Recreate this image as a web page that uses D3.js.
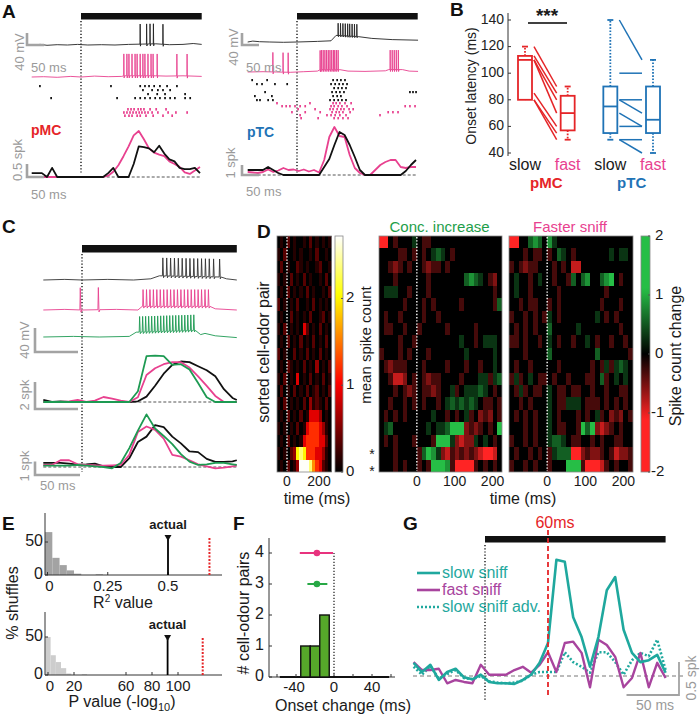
<!DOCTYPE html>
<html><head><meta charset="utf-8">
<script src="https://cdn.jsdelivr.net/npm/d3@7"></script>
<style>body{margin:0;background:#fff}</style>
</head><body>
<svg id="chart" width="700" height="715"></svg>
<script>
// ================= DATA =================
// Panel A – PSTH (spikes per bin), time in ms from odour onset
const aTime = [-145,-130,-115,-100,-85,-70,-55,-40,-25,-10,5,20,35,50,65,80,95,110,125,140,155,170,185,200,215,230,245,260,275,290,305,320,335,350];
const aPmcSlow = [0.15,0.15,0.15,0,0.35,0,0,0,0,0,0,0,0,0,0,0.15,0.35,0,0,0,0.5,1.18,1.15,1.1,0.95,1.2,0.9,0.68,0.6,0.35,0.3,0.3,0.35,0.15];
const aPmcFast = [0,0,0,0,0,0,0,0,0,0,0,0,0,0,0,0.05,0.2,0.45,0.8,1.18,1.6,1.77,1.45,1.1,0.94,0.86,0.8,0.6,0.5,0.39,0.18,0.12,0.25,0.38];
const aPtcSlow = [0.5,0.5,0.5,0.5,0.8,0.5,0.2,0,0,0,0,0,0,0,0,0.8,1.6,3.0,4.3,4.0,3.0,1.8,0.5,0,0,0,0,0,0,0,0,0.4,1.0,1.5];
const aPtcFast = [0.3,0.25,0.2,0.3,0.55,0.3,0.45,0.7,0.5,0.55,0.4,0.55,0.35,0.5,0.25,1.5,3.8,4.8,3.9,3.8,2.0,0.7,0.2,0,0,0.5,1.0,1.3,1.5,1.5,0.8,0.7,0.8,0.8];
// Panel A – membrane potential: baseline [ms, mV] and spike times (ms)
const vPmcSlowBase = [[-145,0],[-120,2],[-100,-1],[-70,1],[-40,0],[-10,2],[20,0],[60,1],[100,0],[140,2],[180,3],[220,4],[260,1],[300,2],[330,5],[355,2]];
const vPmcSlowSpk = [174,193,203,213,241];
const vPmcFastBase = [[-145,0],[-110,1],[-70,-1],[-30,2],[0,0],[40,3],[80,1],[120,2],[126,4],[220,4],[250,3],[300,4],[355,2]];
const vPmcFastSpk = [126,135,141,150,159,165,174,182,188,197,206,212,224,282,312];
const vPtcSlowBase = [[-145,0],[-130,3],[-110,1],[-80,0],[-40,-1],[0,0],[60,2],[100,4],[115,22],[180,18],[220,12],[280,8],[356,6]];
const vPtcSlowSpk = [121,128,135,142,149,155,162,169,176];
const vPtcFastBase = [[-145,0],[-100,1],[-60,0],[-20,-1],[20,1],[60,3],[70,8],[125,8],[150,3],[200,2],[260,4],[270,8],[310,8],[330,3],[356,2]];
const vPtcFastSpk = [-71,-41,-26,68,72,77,82,87,92,97,102,107,111,116,121,274,280,286,292,298];
// Panel A – rasters (spike times per trial)
const rPmcSlow = [[-121,88,174,188,200,215,232,253,282],[182,209,226,241,262],[197,224,247,306],[-88,106,159,174,188,203,218,232,247,262,276,306,321]];
const rPmcFast = [[138,147,156,168,176,185,203,221,250],[126,135,144,153,162,171,179,188,197,209,226,256,279,312],[129,141,150,165,174,191,212,241,268]];
const rPtcSlow = [[-132,-88,106,118,129,141],[-118,-103,-65,-29,100,112,124,135,147],[109,121,132,144],[-94,103,115,126,138,332,341,350],[-124,-74,106,118,129],[-118,-109,-85,-71,97,109,121,132,144]];
const rPtcFast = [[-59,38,106,115,126,141,159],[-44,-32,-21,-6,9,24,100,109,121,132,147,318,332,347],[3,53,97,106,118,129,138,153,165],[-15,24,68,103,115,124,135,156,268,282,297],[9,88,100,112,126,144,244],[12,62,109,121,135,150]];

// Panel B – onset latency (ms)
const bGroups = ["pMC slow","pMC fast","pTC slow","pTC fast"];
const bMin = [80,50,50,40], bQ1 = [80,57,55,55], bMed = [110,70,75,65], bQ3 = [113,83,90,90], bMax = [120,90,140,110];
const bPmcSlowPts = [120,113,110,110,85,80,80], bPmcFastPts = [90,85,80,70,60,55,50];
const bPtcSlowPts = [140,100,80,80,70,60,50,50], bPtcFastPts = [110,100,80,70,60,60,50,40];
const bTicks = [40,60,80,100,120,140];

// Panel C – membrane potential
const cBlackBase = [[-45,0],[-20,1],[0,0],[30,1],[60,0],[80,2],[90,7],[160,5],[168,2],[180,0]];
const cBlackSpk = [94,98.5,103,107.5,112,116.5,121,125.5,130,134.5,139,143.5,148,153,160];
const cPinkBase = [[-45,0],[-20,1],[0,0],[40,1],[65,0],[70,6],[148,6],[155,2],[180,0]];
const cPinkSpk = [-2,19,71,75,79,83,87,91,95,99,103,107,111,115,119,123,127,131,135,139,143,147];
const cGreenBase = [[-45,0],[-10,1],[20,0],[55,1],[63,8],[130,11],[138,4],[143,6],[155,2],[180,-1]];
const cGreenSpk = [67,70.5,74,77.5,81,84.5,88,91.5,95,98.5,102,105.5,109,112.5,116,119.5,123,126.5,130];
// Panel C – PSTHs
const cTime = [-45,-35,-25,-15,-5,5,15,25,35,45,55,65,75,85,95,105,115,125,135,145,155,165,175,180];
const c1Black = [0.15,0,0.05,0,0,0,0,0,0,0,0,0.05,0.4,1.2,2.1,2.75,3.0,2.95,2.65,2.35,1.9,0.95,0.3,0.15];
const c1Pink = [0,0,0,0.05,0.15,0,0.1,0.37,0.25,0.1,0,0.35,2.0,2.5,2.8,2.95,2.95,2.55,1.9,1.2,0.45,0,0,0];
const c1Green = [0,0,0,0,0,0,0,0,0,0,0,0.8,3.4,3.43,3.4,2.75,2.8,2.4,1.4,0.35,0,0,0,0];
const c2Black = [0.3,0.3,0.3,0.25,0.18,0.2,0.25,0.05,0,0,0.65,1.85,2.25,3.1,2.95,2.25,1.75,1.15,1.1,0.6,0.38,0.38,0.42,0.5];
const c2Pink = [0.15,0.15,0.5,0.5,0.2,0.15,0.12,0.1,0.12,0.15,0.9,2.6,3.0,2.75,2.1,0.9,0.77,0.5,0.2,0.05,-0.1,-0.05,0.05,0.1];
const c2Green = [0.1,0.1,0.1,0.1,0.15,0.1,0.05,0,-0.1,0.3,1.4,2.7,3.9,2.85,2.3,1.7,0.95,0.4,0.15,0.2,0.3,0.3,0.2,0.15];

// Panel D – heatmaps (each character = one time bin)
// mean spike count: level index 0-9 into dMeanLevels
const dMeanLevels = [0,0.15,0.35,0.6,0.9,1.2,1.6,2.0,2.35,2.7];
const dMeanRows = [
"01020100102010101","10200101001020010","02010021010012001","10102010201001020",
"01020101020100102","20101020010201010","01002010102001201","10201010420102010",
"01020102010201020","20100201020102010","01021010201030102","10201040102010201",
"02010201020120102","10201010203121020","01020102014443010","10101020145554310",
"01020101455554420","10102378755544310","01020139998654210"];
// spike-count change: . 0 | r R S X negative | g G H W positive
const dConcRows = [
"XX.r...g.rr...............","....rr.r.r.gGg.r..........","..rRr.r..rRrr.r...........","...r......r.......GHGg.rR.",
".ggg..r...r.............r.",".....r...r.r.....r......rG",".r..r....r..r.............",".rr..r..r.....r.....r.....",
"....r..r.........g..r.ggg.","r...r.r...r.......g.....g.",".rRrrr...r....r...r..r..g.","..rSSR.r.rRrr....r...ggrgG",
"...r.rRr.rrRr..gr.gggGg.r.","..r..r.r.r..r.gGgGgGg.rr.r",".r.r.r.....g..r.r.gr.RrR.r",".gG.......g.ggGWWWRrRr.r.W",
".r.r...r...rWWWgRSRRg.g.r.","...r....rGWHgRSrRrRrRSXXS.","...r.r..r.rWWWHrXXXXr.r.r."];
const dSniffRows = [
"XX..GHG.Hg................","...r.rr.r.Gg.r.......g.gg.","r.rRrr...r.r.SS...........",".g..r.g..r..rG.GH..GHW.r..",
".g..r.....r.........r.....","..r.rr..r.r........r...r..","r..r.r.rg.r.......g.r.r...",".r.r.r..G.....g........r..",
"rr.r..r.g.r..r..g.r..r..r.","...r....G.........G......r",".r..r.....r......r.rgrgGg.","rgr.g.rr.r..r...rr.Gr.g.g.",
".rgr.rr.g.rr.rr..r..r..rr.","..r.r...g.rrggg.rrr.r.r.r.",".r.r.r..g.r...r.r.gr.RrR.r","...r.r..g.rr..rWGWRSRr.r..",
"r..r.r..gGGg.rr..r.r..rr..",".r..r.r.rgGGGXXRrRRr.rSRRr","r..r.r..r...WWWrXXXSr.r..r"];
const dChangeLevels = {".":0,"r":-0.3,"R":-0.55,"S":-0.85,"X":-1.6,"g":0.3,"G":0.55,"H":0.85,"W":1.6};
const dMeanTicks = [0,1,2], dChangeTicks = [-2,-1,0,1,2], dTimeTicksL = [0,200], dTimeTicks = [0,100,200];

// Panel E – shuffle histograms (% shuffles)
const eR2Edges = [-0.01,0.02,0.05,0.08,0.11,0.14,0.17,0.20,0.23];
const eR2Counts = [65,26,15,7,2,0,0,1];
const eR2Actual = 0.5, eR2Red = 0.672;
const eR2Ticks = [0,0.25,0.5];
const ePEdges = [-2,2,6,10,14,18,22,26,30];
const ePCounts = [50,26,17,9,2,0,0,1];
const ePActual = 92, ePRed = 119;
const ePTicks = [0,20,60,80,100];

// Panel F – onset change histogram
const fEdges = [-35,-25,-15,-5];
const fCounts = [1,1,2];
const fPink = {mean:-18, lo:-36, hi:-1, y:4};
const fGreen = {mean:-18, lo:-28, hi:-7, y:3};

// Panel G – population PSTH (spikes)
const gTime = [-68,-60,-52,-44,-36,-28,-20,-12,-4,4,12,20,28,36,44,52,60,68,76,84,92,100,108,116,124,132,140,148,156,164,172];
const gSlow = [0.20,0.06,0.17,-0.06,0.06,0.11,-0.02,-0.05,0.02,-0.09,-0.11,-0.11,-0.12,-0.06,0.02,0.20,0.50,1.76,1.73,0.89,0.59,0.14,0.59,1.30,1.50,0.70,0.35,0.21,0.24,0.32,0.05];
const gFast = [0.21,0.09,0.09,0.11,-0.11,-0.06,-0.09,-0.11,0.17,0.02,0.02,0.02,0.09,0.14,0.05,0.17,0.36,0.06,0.50,0.52,0.35,-0.17,0.55,0.47,0.29,-0.17,-0.03,0.35,-0.17,0.20,-0.03];
const gSlowAdv = [0.14,0.02,0.15,-0.04,0.03,0.09,-0.03,-0.05,0.00,-0.08,-0.10,-0.11,-0.10,-0.07,0.02,0.06,0.06,0.06,0.36,0.21,0.14,0.05,0.36,0.36,0.21,0.02,0.24,0.35,0.30,0.55,0.09];

// ================= STYLE =================
const FONT = "'Liberation Sans', Arial, Helvetica, sans-serif";
const PINK = "#e8418f", RED = "#e52528", BLUE = "#1f73b6", CGREEN = "#1d9a52", GRAY = "#a3a3a3";
const TEAL = "#1fa89e", PURPLE = "#a8449e";

const svg = d3.select("#chart").attr("font-family", FONT);

function text(x, y, s, o = {}) {
  const t = svg.append("text").attr("x", x).attr("y", y).text(s)
    .attr("font-size", o.size || 14).attr("fill", o.fill || "#1a1a1a")
    .attr("text-anchor", o.anchor || "start");
  if (o.bold) t.attr("font-weight", "bold");
  if (o.rot) t.attr("transform", `rotate(-90 ${x} ${y})`);
  if (o.base) t.attr("dominant-baseline", o.base);
  return t;
}
function line(x1, y1, x2, y2, o = {}) {
  const l = svg.append("line").attr("x1", x1).attr("y1", y1).attr("x2", x2).attr("y2", y2)
    .attr("stroke", o.stroke || "#000").attr("stroke-width", o.w || 1);
  if (o.dash) l.attr("stroke-dasharray", o.dash);
  return l;
}
function scaleL(x, yTop, yBot, xRight, w) {
  svg.append("path").attr("d", `M${x},${yTop}V${yBot}H${xRight}`).attr("fill", "none")
    .attr("stroke", GRAY).attr("stroke-width", w || 2.6);
}
function series(ts, vs, xs, ys, color, w, dash) {
  const p = svg.append("path").attr("d", d3.line().x((d, i) => xs(ts[i])).y(d => ys(d))(vs))
    .attr("fill", "none").attr("stroke", color).attr("stroke-width", w).attr("stroke-linejoin", "round");
  if (dash) p.attr("stroke-dasharray", dash);
}
function vTrace(base, spikes, amp, xs, y0, k, color) {
  const interp = t => {
    for (let i = 0; i < base.length - 1; i++) {
      const [t0, v0] = base[i], [t1, v1] = base[i + 1];
      if (t >= t0 && t <= t1) return v0 + (v1 - v0) * (t - t0) / (t1 - t0);
    }
    return base[base.length - 1][1];
  };
  const pts = base.filter(b => !spikes.some(s => b[0] > s - 0.6 && b[0] < s + 2)).slice();
  spikes.forEach((s, i) => {
    const b = interp(s), a = typeof amp === "function" ? amp(s) : amp;
    pts.push([s - 0.5, b], [s, b + a], [s + 0.8, b - a * 0.1], [s + 1.8, b]);
  });
  pts.sort((p, q) => p[0] - q[0]);
  svg.append("path").attr("d", d3.line().x(d => xs(d[0])).y(d => y0 - d[1] * k)(pts))
    .attr("fill", "none").attr("stroke", color).attr("stroke-width", 0.9);
}
function raster(trials, xs, yTop, dy, color, h) {
  const pts = trials.flatMap((tr, i) => tr.map(t => ({t, i})));
  svg.append("g").selectAll("rect").data(pts).join("rect")
    .attr("x", d => xs(d.t) - 0.8).attr("y", d => yTop + d.i * dy)
    .attr("width", 1.7).attr("height", h).attr("fill", color);
}
function panelLabel(x, y, s) { text(x, y, s, {size: 19, bold: true, fill: "#111"}); }

// ================= PANEL A =================
panelLabel(2, 18, "A");
[{x0: 81, psthY0: 177, psthK: 26, slow: aPmcSlow, fast: aPmcFast, vs: [vPmcSlowBase, vPmcSlowSpk, 67, vPmcFastBase, vPmcFastSpk, 73],
  rs: rPmcSlow, rf: rPmcFast, name: "pMC", col: RED, sx: 27, nx: 31, ny: 135, spkLabel: "0.5 spk", spkLen: 13, vb: [45, 77]},
 {x0: 297, psthY0: 175, psthK: 10, slow: aPtcSlow, fast: aPtcFast, vs: [vPtcSlowBase, vPtcSlowSpk, 41, vPtcFastBase, vPtcFastSpk, 65],
  rs: rPtcSlow, rf: rPtcFast, name: "pTC", col: BLUE, sx: 242, nx: 247, ny: 137, spkLabel: "1 spk", spkLen: 10, vb: [42, 72]}
].forEach((P, pi) => {
  const xs = d3.scaleLinear().domain([0, 100]).range([P.x0, P.x0 + 34]);
  svg.append("rect").attr("x", xs(0)).attr("y", 13).attr("width", xs(355) - xs(0)).attr("height", 6.5).attr("fill", "#111");
  line(xs(0), 21, xs(0), 174, {dash: "1.2,2", w: 1.3});
  vTrace(P.vs[0], P.vs[1], P.vs[2], xs, P.vb[0], 0.3, "#222");
  vTrace(P.vs[3], P.vs[4], P.vs[5], xs, P.vb[1], 0.3, PINK);
  if (pi === 0) { raster(P.rs, xs, 85, 4, "#111", 2.2); raster(P.rf, xs, 108, 3.2, PINK, 2.6); }
  else { raster(P.rs, xs, 79, 4, "#111", 2.2); raster(P.rf, xs, 102, 3, PINK, 2.4); }
  scaleL(P.sx, 33, 45, P.sx + 17);
  text(pi === 0 ? 21 : 235, pi === 0 ? 52 : 47, "40 mV", {size: 13, fill: "#9a9a9a", anchor: "middle", rot: true, base: "middle"});
  text(P.sx + 4, 72, "50 ms", {size: 13, fill: "#9a9a9a"});
  text(P.nx, P.ny, P.name, {size: 14, bold: true, fill: P.col});
  const ys = d3.scaleLinear().domain([0, 1]).range([P.psthY0, P.psthY0 - P.psthK]);
  line(xs(-145), ys(0), xs(355), ys(0), {stroke: "#555", dash: "3,2", w: 1});
  series(aTime, P.fast, xs, ys, PINK, 1.8);
  series(aTime, P.slow, xs, ys, "#111", 1.8);
  scaleL(P.sx, ys(0) - P.spkLen, ys(0), P.sx + 17);
  text(pi === 0 ? 19 : 232, pi === 0 ? 160 : 163, P.spkLabel, {size: 13, fill: "#9a9a9a", anchor: "middle", rot: true, base: "middle"});
  text(P.sx + 4, pi === 0 ? 199 : 196, "50 ms", {size: 13, fill: "#9a9a9a"});
});

// ================= PANEL B =================
panelLabel(450, 16, "B");
const yB = d3.scaleLinear().domain([40, 140]).range([153, 20]);
const xB = d3.scalePoint().domain(bGroups).range([525, 653]);
line(508, 13, 508, 156, {stroke: "#333", w: 1});
bTicks.forEach(v => {
  line(508, yB(v), 511, yB(v), {stroke: "#333"});
  text(504, yB(v), v, {size: 14, anchor: "end", base: "middle", fill: "#222"});
});
text(472, 86, "Onset latency (ms)", {size: 14, anchor: "middle", rot: true, base: "middle", fill: "#222"});
bGroups.forEach((g, i) => {
  const c = i < 2 ? RED : BLUE, x = xB(g), hw = 7;
  const gg = svg.append("g").attr("stroke", c).attr("fill", "none").attr("stroke-width", 1.8);
  gg.append("line").attr("x1", x).attr("x2", x).attr("y1", yB(bQ3[i])).attr("y2", yB(bMax[i])).attr("stroke-dasharray", "1.6,1.6");
  gg.append("line").attr("x1", x).attr("x2", x).attr("y1", yB(bQ1[i])).attr("y2", yB(bMin[i])).attr("stroke-dasharray", "1.6,1.6");
  gg.append("line").attr("x1", x - 3).attr("x2", x + 3).attr("y1", yB(bMax[i])).attr("y2", yB(bMax[i]));
  if (bMin[i] < bQ1[i]) gg.append("line").attr("x1", x - 3).attr("x2", x + 3).attr("y1", yB(bMin[i])).attr("y2", yB(bMin[i]));
  gg.append("rect").attr("x", x - hw).attr("width", 2 * hw).attr("y", yB(bQ3[i])).attr("height", yB(bQ1[i]) - yB(bQ3[i]));
  gg.append("line").attr("x1", x - hw).attr("x2", x + hw).attr("y1", yB(bMed[i])).attr("y2", yB(bMed[i]));
  text(x, 170, i % 2 ? "fast" : "slow", {size: 16, anchor: "middle", fill: i % 2 ? PINK : "#1a1a1a"});
});
[[bPmcSlowPts, bPmcFastPts, 0, RED], [bPtcSlowPts, bPtcFastPts, 2, BLUE]].forEach(([s, f, gi, c]) => {
  const x1 = xB(bGroups[gi]) + 9, x2 = xB(bGroups[gi + 1]) - 11;
  s.forEach((v, i) => line(x1, yB(v), x2, yB(f[i]), {stroke: c, w: 1.5}));
});
text((xB(bGroups[0]) + xB(bGroups[1])) / 2, 188, "pMC", {size: 15, bold: true, fill: RED, anchor: "middle"});
text((xB(bGroups[2]) + xB(bGroups[3])) / 2, 188, "pTC", {size: 15, bold: true, fill: BLUE, anchor: "middle"});
line(528, 23, 567, 23, {w: 1.5});
text(547, 22, "***", {size: 19, bold: true, anchor: "middle"});

// ================= PANEL C =================
panelLabel(2, 233, "C");
const xC = d3.scaleLinear().domain([0, 100]).range([82, 168]);
svg.append("rect").attr("x", xC(0)).attr("y", 245).attr("width", xC(180) - xC(0)).attr("height", 7.5).attr("fill", "#111");
line(xC(0), 254, xC(0), 472, {dash: "1.2,2", w: 1.3});
vTrace(cBlackBase, cBlackSpk, 30, xC, 280, 0.6, "#333");
vTrace(cPinkBase, cPinkSpk, s => (s < 40 ? 37 : 28), xC, 310, 0.6, PINK);
vTrace(cGreenBase, cGreenSpk, 26, xC, 337, 0.6, CGREEN);
scaleL(35, 328, 352, 78);
text(26, 340, "40 mV", {size: 13, fill: "#9a9a9a", anchor: "middle", rot: true, base: "middle"});
const yC1 = d3.scaleLinear().domain([0, 1]).range([402, 388.5]);
const yC2 = d3.scaleLinear().domain([0, 1]).range([467, 453.5]);
[[yC1, c1Black, c1Pink, c1Green], [yC2, c2Black, c2Pink, c2Green]].forEach(([ys, b, p, g]) => {
  line(xC(-45), ys(0), xC(180), ys(0), {stroke: "#555", dash: "3,2"});
  series(cTime, b, xC, ys, "#111", 1.8);
  series(cTime, p, xC, ys, PINK, 1.8);
  series(cTime, g, xC, ys, CGREEN, 1.8);
});
scaleL(35, 382, 409, 78);
text(26, 395, "2 spk", {size: 13, fill: "#9a9a9a", anchor: "middle", rot: true, base: "middle"});
scaleL(35, 461.5, 475, 80);
text(26, 466, "1 spk", {size: 13, fill: "#9a9a9a", anchor: "middle", rot: true, base: "middle"});
text(40, 490, "50 ms", {size: 13, fill: "#9a9a9a"});

// ================= PANEL D =================
panelLabel(257, 238, "D");
function hot(t) {
  t = Math.max(0, Math.min(1, t));
  const r = Math.min(1, t / 0.375), g = Math.max(0, Math.min(1, (t - 0.375) / 0.375)), b = Math.max(0, Math.min(1, (t - 0.75) / 0.25));
  return d3.rgb(r * 255, g * 255, b * 255).formatHex();
}
const meanMax = 2.72;
const rg = v => v < 0 ? d3.interpolateRgb("#000", "#ff2424")(Math.min(1, -v / 1.1))
                      : d3.interpolateRgb("#000", "#26be46")(Math.min(1, v / 1.1));
function heatmap(rows, x0, x1, y0, y1, colorOf) {
  const xb = d3.scaleBand().domain(d3.range(rows[0].length)).range([x0, x1]);
  const yb = d3.scaleBand().domain(d3.range(rows.length)).range([y0, y1]);
  const cells = rows.flatMap((r, i) => r.split("").map((ch, j) => ({i, j, ch})));
  svg.append("g").selectAll("rect").data(cells).join("rect")
    .attr("x", d => xb(d.j)).attr("y", d => yb(d.i))
    .attr("width", xb.bandwidth() + 0.3).attr("height", yb.bandwidth() + 0.3)
    .attr("fill", d => colorOf(d.ch)).attr("shape-rendering", "crispEdges");
  svg.append("rect").attr("x", x0).attr("y", y0).attr("width", x1 - x0).attr("height", y1 - y0)
    .attr("fill", "none").attr("stroke", "#888").attr("stroke-width", 0.8);
}
const hy0 = 236, hy1 = 472;
const xD1 = d3.scaleLinear().domain([-62.5, 277.5]).range([277, 331.4]);
const xD2 = d3.scaleLinear().domain([-100, 225]).range([379, 502]);
const xD3 = d3.scaleLinear().domain([-100, 225]).range([509, 633]);
heatmap(dMeanRows, 277, 331.4, hy0, hy1, ch => hot(dMeanLevels[+ch] / meanMax));
heatmap(dConcRows, 379, 502, hy0, hy1, ch => rg(dChangeLevels[ch]));
heatmap(dSniffRows, 509, 633, hy0, hy1, ch => rg(dChangeLevels[ch]));
[xD1, xD2, xD3].forEach(xs => line(xs(0), hy0 + 1, xs(0), hy1 - 1, {stroke: "#fff", dash: "1.4,1.8", w: 1.4}));
const defs = svg.append("defs");
function gradient(id, fn) {
  const gr = defs.append("linearGradient").attr("id", id).attr("x1", 0).attr("y1", 1).attr("x2", 0).attr("y2", 0);
  d3.range(0, 1.0001, 0.02).forEach(t => gr.append("stop").attr("offset", t).attr("stop-color", fn(t)));
}
gradient("gHot", t => hot(t));
gradient("gRG", t => rg(-2 + 4 * t));
const yCb1 = d3.scaleLinear().domain([0, meanMax]).range([hy1, hy0]);
const yCb2 = d3.scaleLinear().domain([-2, 2]).range([hy1, hy0]);
svg.append("rect").attr("x", 335).attr("y", hy0).attr("width", 8).attr("height", hy1 - hy0).attr("fill", "url(#gHot)").attr("stroke", "#888").attr("stroke-width", 0.8);
svg.append("rect").attr("x", 641).attr("y", hy0).attr("width", 9).attr("height", hy1 - hy0).attr("fill", "url(#gRG)").attr("stroke", "#888").attr("stroke-width", 0.8);
dMeanTicks.forEach(v => { line(341, yCb1(v), 343, yCb1(v), {stroke: "#555"}); text(346, yCb1(v), v, {size: 15, base: "middle"}); });
dChangeTicks.forEach(v => { line(648, yCb2(v), 650, yCb2(v), {stroke: "#555"}); text(v < 0 ? 651 : 655, yCb2(v), v, {size: 15, base: "middle"}); });
text(367, 345, "mean spike count", {size: 15, anchor: "middle", rot: true, base: "middle"});
text(677, 356, "Spike count change", {size: 16, anchor: "middle", rot: true, base: "middle"});
text(265, 352, "sorted cell-odor pair", {size: 16, anchor: "middle", rot: true, base: "middle"});
text(372, 459, "*", {size: 14, anchor: "middle"});
text(372, 476, "*", {size: 14, anchor: "middle"});
text(xD2(60), 232, "Conc. increase", {size: 15, anchor: "middle", fill: "#1e9e4a"});
text(xD3(60), 232, "Faster sniff", {size: 15, anchor: "middle", fill: PINK});
dTimeTicksL.forEach(v => text(xD1(v), 486, v, {size: 14, anchor: "middle"}));
dTimeTicks.forEach(v => { text(xD2(v), 486, v, {size: 14, anchor: "middle"}); text(xD3(v), 486, v, {size: 14, anchor: "middle"}); });
text(317, 504, "time (ms)", {size: 16, anchor: "middle"});
text(523, 504, "time (ms)", {size: 16, anchor: "middle"});

// ================= PANEL E =================
panelLabel(2, 530, "E");
function histPanel(edges, counts, xs, ys, yTop, xEnd, fill, actual, red, tickVals, xLabelY) {
  svg.append("g").selectAll("rect").data(counts).join("rect")
    .attr("x", (d, i) => xs(edges[i])).attr("width", (d, i) => xs(edges[i + 1]) - xs(edges[i]))
    .attr("y", d => ys(d)).attr("height", d => ys(0) - ys(d)).attr("fill", fill);
  line(45, yTop, 45, ys(0), {stroke: "#333"});
  line(45, ys(0), xEnd, ys(0), {stroke: "#333"});
  [0, 50].forEach(v => { line(45, ys(v), 48, ys(v), {stroke: "#333"}); text(43, ys(v), v, {size: 16, anchor: "end", base: "middle"}); });
  tickVals.forEach(v => { line(xs(v), ys(0), xs(v), ys(0) - 3, {stroke: "#333"}); text(xs(v) + (v === 0 ? 2 : 0), xLabelY, v, {size: 15, anchor: "middle"}); });
  const xa = xs(actual), ya = ys(0) - 40;
  line(xa, ya + 4, xa, ys(0), {w: 1.8});
  svg.append("path").attr("d", `M${xa - 3.5},${ya}L${xa + 3.5},${ya}L${xa},${ya + 6}Z`).attr("fill", "#111");
  text(xa, ya - 6, "actual", {size: 13, bold: true, anchor: "middle"});
  line(xs(red), ys(0), xs(red), ys(0) - 37, {stroke: RED, dash: "2,1.5", w: 2});
}
const xE1 = d3.scaleLinear().domain([0, 0.5]).range([47.5, 168]);
const yE1 = d3.scaleLinear().domain([0, 50]).range([575, 542]);
histPanel(eR2Edges, eR2Counts, xE1, yE1, 513, 222, "#a3a3a3", eR2Actual, eR2Red, eR2Ticks, 591);
const r2 = text(123, 608, "R", {size: 16, anchor: "middle"});
r2.append("tspan").attr("dy", -6).attr("font-size", 10).text("2");
r2.append("tspan").attr("dy", 6).text(" value");
const xE2 = d3.scaleLinear().domain([0, 100]).range([48, 178]);
const yE2 = d3.scaleLinear().domain([0, 50]).range([675, 637]);
histPanel(ePEdges, ePCounts, xE2, yE2, 612, 222, "#cdcdcd", ePActual, ePRed, ePTicks, 691);
const pl = text(122, 707, "P value (-log", {size: 16, anchor: "middle"});
pl.append("tspan").attr("dy", 4).attr("font-size", 11).text("10");
pl.append("tspan").attr("dy", -4).text(")");
text(14, 603, "% shuffles", {size: 16, anchor: "middle", rot: true, base: "middle"});

// ================= PANEL F =================
panelLabel(233, 530, "F");
const xF = d3.scaleLinear().domain([0, 40]).range([334, 372]);
const yF = d3.scaleLinear().domain([0, 4]).range([677, 553]);
line(269, 538, 269, 677, {stroke: "#333"});
line(269, 677, 395, 677, {stroke: "#333"});
line(xF(-57), 677, xF(58), 677, {stroke: "#111", w: 2.2});
[0, 1, 2, 3, 4].forEach(v => { line(269, yF(v), 272, yF(v), {stroke: "#333"}); text(264, yF(v), v, {size: 16, anchor: "end", base: "middle"}); });
[-60, -40, -20, 0, 20, 40, 60].forEach(v => line(xF(v), 677, xF(v), 674, {stroke: "#333"}));
[-40, 0, 40].forEach(v => text(xF(v) - (v < 0 ? 2 : 0), 692, v, {size: 15, anchor: "middle"}));
svg.append("g").selectAll("rect").data(fCounts).join("rect")
  .attr("x", (d, i) => xF(fEdges[i])).attr("width", (d, i) => xF(fEdges[i + 1]) - xF(fEdges[i]))
  .attr("y", d => yF(d)).attr("height", d => yF(0) - yF(d))
  .attr("fill", "#56a82a").attr("stroke", "#111").attr("stroke-width", 1.4);
line(xF(0), yF(0), xF(0), yF(4), {dash: "1.2,1.8", w: 1.1});
[[fPink, "#e8337e"], [fGreen, "#27a845"]].forEach(([p, c]) => {
  line(xF(p.lo), yF(p.y), xF(p.hi), yF(p.y), {stroke: c, w: 2});
  svg.append("circle").attr("cx", xF(p.mean)).attr("cy", yF(p.y)).attr("r", 3.3).attr("fill", c);
});
text(245, 613, "# cell-odour pairs", {size: 16, anchor: "middle", rot: true, base: "middle"});
text(343, 711, "Onset change (ms)", {size: 16, anchor: "middle"});

// ================= PANEL G =================
panelLabel(403, 530, "G");
const xG = d3.scaleLinear().domain([0, 60]).range([485, 548]);
const yG = d3.scaleLinear().domain([0, 0.5]).range([676, 643]);
svg.append("rect").attr("x", xG(0)).attr("y", 536).attr("width", xG(172) - xG(0)).attr("height", 6.5).attr("fill", "#111");
text(555, 528, "60ms", {size: 16, anchor: "middle", fill: RED});
line(413, yG(0), 683, yG(0), {stroke: "#777", dash: "4,3"});
line(xG(0), 545, xG(0), 700, {dash: "1.2,2", w: 1.3});
series(gTime, gSlowAdv, xG, yG, TEAL, 2.6, "2,2");
series(gTime, gFast, xG, yG, PURPLE, 2.4);
series(gTime, gSlow, xG, yG, TEAL, 2.6);
line(xG(60), 530, xG(60), 695, {stroke: RED, dash: "5,3", w: 1.8});
[["slow sniff", TEAL, null, 573], ["fast sniff", PURPLE, null, 590], ["slow sniff adv.", TEAL, "2,2", 607]].forEach(([s, c, d, y]) => {
  line(417, y, 440, y, {stroke: c, w: 2.6, dash: d});
  text(442, y + 5, s, {size: 16, fill: c});
});
scaleL(679, yG(0.5) + 19, 695, 679 - (xG(50) - xG(0)), 1.8);
text(692, 678, "0.5 spk", {size: 14, fill: "#9a9a9a", anchor: "middle", rot: true, base: "middle"});
text(655, 710, "50 ms", {size: 14, fill: "#9a9a9a", anchor: "middle"});
</script>
</body></html>
